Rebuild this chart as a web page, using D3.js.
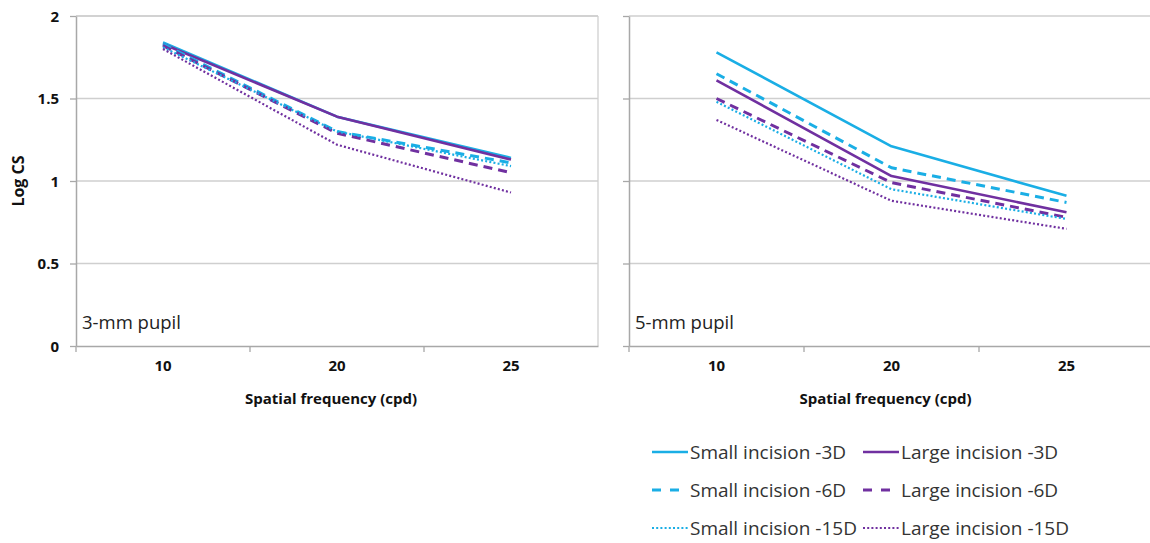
<!DOCTYPE html>
<html>
<head>
<meta charset="utf-8">
<script src="https://cdn.jsdelivr.net/npm/d3@7"></script>
<style>
  html, body { margin: 0; padding: 0; background: #fff; }
  svg { display: block; font-family: "Open Sans", sans-serif; }
</style>
</head>
<body>
<svg id="chart" width="1150" height="543"></svg>
<script>
// Spatial frequencies tested (categorical x axis)
const frequencies = ["10", "20", "25"];
const yTicks = [0, 0.5, 1, 1.5, 2];

// Series definitions
const seriesNames = [
  "Small incision -3D", "Large incision -3D",
  "Small incision -6D", "Large incision -6D",
  "Small incision -15D", "Large incision -15D"
];
const seriesGroup = ["small", "large", "small", "large", "small", "large"];
const seriesStyle = ["solid", "solid", "dashed", "dashed", "dotted", "dotted"];

// Log contrast sensitivity, 3-mm pupil
const pupil3Small3D  = [1.84, 1.39, 1.14];
const pupil3Large3D  = [1.83, 1.39, 1.13];
const pupil3Small6D  = [1.83, 1.30, 1.11];
const pupil3Large6D  = [1.82, 1.29, 1.05];
const pupil3Small15D = [1.81, 1.30, 1.09];
const pupil3Large15D = [1.80, 1.22, 0.93];

// Log contrast sensitivity, 5-mm pupil
const pupil5Small3D  = [1.78, 1.21, 0.91];
const pupil5Large3D  = [1.61, 1.03, 0.81];
const pupil5Small6D  = [1.65, 1.08, 0.87];
const pupil5Large6D  = [1.50, 0.99, 0.78];
const pupil5Small15D = [1.48, 0.95, 0.77];
const pupil5Large15D = [1.37, 0.88, 0.71];

const pupil3 = [pupil3Small3D, pupil3Large3D, pupil3Small6D, pupil3Large6D, pupil3Small15D, pupil3Large15D];
const pupil5 = [pupil5Small3D, pupil5Large3D, pupil5Small6D, pupil5Large6D, pupil5Small15D, pupil5Large15D];

const colors = { small: "#1aaee5", large: "#7030a0" };
const styles = {
  solid:  { dash: null,   width: 2.6 },
  dashed: { dash: "9,6",  width: 3 },
  dotted: { dash: "2,2.2", width: 2.2 }
};

const svg = d3.select("#chart");
const gridColor = "#cfcfcf";
const axisColor = "#a8a8a8";

const plotTop = 16, plotBottom = 346;
const y = d3.scaleLinear().domain([0, 2]).range([plotBottom, plotTop]);

function drawPanel(x0, x1, values, label, showYLabels, showRightBorder) {
  const g = svg.append("g");
  const x = d3.scaleBand().domain(frequencies).range([x0, x1]).padding(0);

  // horizontal gridlines
  g.selectAll("line.grid").data(yTicks.filter(t => t > 0)).join("line")
    .attr("x1", x0).attr("x2", x1)
    .attr("y1", d => y(d)).attr("y2", d => y(d))
    .attr("stroke", gridColor).attr("stroke-width", 1.3);

  if (showRightBorder) {
    g.append("line").attr("x1", x1).attr("x2", x1).attr("y1", plotTop).attr("y2", plotBottom)
      .attr("stroke", gridColor).attr("stroke-width", 1.3);
  }

  // y axis
  const yAxis = d3.axisLeft(y).tickValues(yTicks).tickSize(6).tickSizeOuter(0)
    .tickFormat(showYLabels ? d3.format("") : () => "");
  const ya = g.append("g").attr("transform", `translate(${x0},0)`).call(yAxis);
  ya.select(".domain").attr("stroke", axisColor).attr("stroke-width", 1.5);
  ya.selectAll(".tick line").attr("stroke", axisColor).attr("stroke-width", 1.3);
  ya.selectAll(".tick text").attr("x", -17).attr("dy", "0.35em")
    .attr("fill", "#111").attr("font-size", 15).attr("font-weight", 700)
    .attr("font-family", "'Open Sans', sans-serif");

  // x axis
  const xAxis = d3.axisBottom(x).tickSize(0).tickPadding(14);
  const xa = g.append("g").attr("transform", `translate(0,${plotBottom})`).call(xAxis);
  xa.select(".domain").attr("stroke", axisColor).attr("stroke-width", 1.5);
  xa.selectAll(".tick text").attr("fill", "#111").attr("font-size", 15).attr("font-weight", 700)
    .attr("font-family", "'Open Sans', sans-serif");
  // category boundary ticks
  const bounds = [x0, ...frequencies.slice(1).map(f => x(f))];
  g.selectAll("line.xtick").data(bounds).join("line")
    .attr("x1", d => d).attr("x2", d => d)
    .attr("y1", plotBottom).attr("y2", plotBottom + 6)
    .attr("stroke", axisColor).attr("stroke-width", 1.3);

  // series lines
  const line = d3.line()
    .x((d, i) => x(frequencies[i]) + x.bandwidth() / 2)
    .y(d => y(d));
  values.forEach((vals, i) => {
    const st = styles[seriesStyle[i]];
    g.append("path").datum(vals)
      .attr("d", line)
      .attr("fill", "none")
      .attr("stroke", colors[seriesGroup[i]])
      .attr("stroke-width", st.width)
      .attr("stroke-dasharray", st.dash)
      .attr("stroke-linejoin", "round");
  });

  // panel label
  g.append("text").attr("x", x0 + 6).attr("y", 329)
    .attr("font-size", 18.5).attr("fill", "#222").text(label);

  // x title
  g.append("text").attr("x", (x0 + x1) / 2 - 6).attr("y", 404)
    .attr("text-anchor", "middle").attr("font-size", 15).attr("font-weight", 700)
    .attr("fill", "#111").text("Spatial frequency (cpd)");
}

// 3-mm panel has a light border on top and right
svg.append("line").attr("x1", 76).attr("x2", 598).attr("y1", plotTop).attr("y2", plotTop)
  .attr("stroke", gridColor).attr("stroke-width", 1.3);
drawPanel(76, 598, pupil3, "3-mm pupil", true, true);
drawPanel(629, 1154, pupil5, "5-mm pupil", false, false);

// y-axis title
svg.append("text")
  .attr("transform", "translate(24,181) rotate(-90)")
  .attr("text-anchor", "middle").attr("font-size", 16).attr("font-weight", 700)
  .attr("fill", "#111").text("Log CS");

// legend
const legendCols = [652, 863];
const legendRows = [452, 490, 528];
const legend = svg.append("g");
seriesNames.forEach((name, i) => {
  const cx = legendCols[i % 2];
  const cy = legendRows[Math.floor(i / 2)];
  const st = styles[seriesStyle[i]];
  legend.append("line")
    .attr("x1", cx).attr("x2", cx + 36).attr("y1", cy).attr("y2", cy)
    .attr("stroke", colors[seriesGroup[i]])
    .attr("stroke-width", st.width)
    .attr("stroke-dasharray", seriesStyle[i] === "dashed" ? "9,9" : st.dash);
  legend.append("text")
    .attr("x", cx + 38).attr("y", cy).attr("dy", "0.35em")
    .attr("font-size", 19).attr("fill", "#333").text(name);
});
</script>
</body>
</html>
